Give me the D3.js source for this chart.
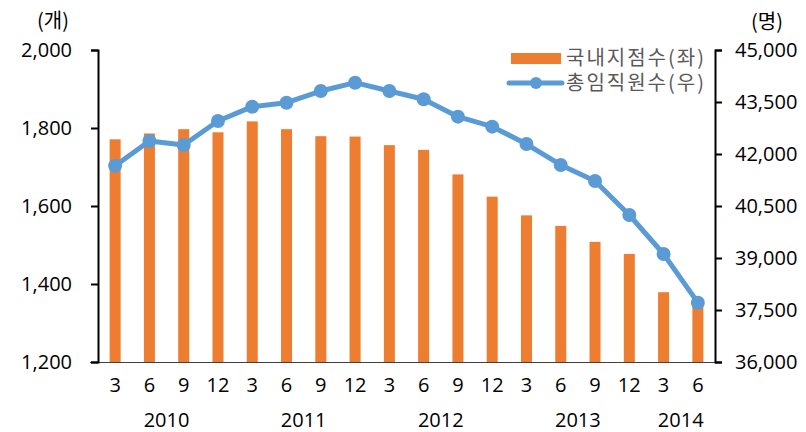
<!DOCTYPE html>
<html>
<head>
<meta charset="utf-8">
<script src="https://cdn.jsdelivr.net/npm/d3@7"></script>
<style>
  body { margin: 0; background: #fff; }
  svg text { font-family: "Open Sans", "Noto Sans CJK KR", sans-serif; }
  svg text.kr { font-family: "Noto Sans CJK KR", sans-serif; }
</style>
</head>
<body>
<svg id="chart"></svg>
<script>
const WIDTH = 806;
const HEIGHT = 432;

// data
const months = ["3", "6", "9", "12", "3", "6", "9", "12", "3", "6", "9", "12", "3", "6", "9", "12", "3", "6"];
const years = [
  { label: "2010", from: 0, to: 3 },
  { label: "2011", from: 4, to: 7 },
  { label: "2012", from: 8, to: 11 },
  { label: "2013", from: 12, to: 15 },
  { label: "2014", from: 16, to: 17 }
];
const branches = [1771, 1786, 1797, 1789, 1817, 1797, 1779, 1778, 1756, 1744, 1681, 1624, 1576, 1549, 1508, 1477, 1379, 1355];
const employees = [41663, 42375, 42260, 42952, 43365, 43480, 43817, 44057, 43817, 43578, 43077, 42789, 42288, 41683, 41221, 40240, 39116, 37711];
const leftTicks = [1200, 1400, 1600, 1800, 2000];
const rightTicks = [36000, 37500, 39000, 40500, 42000, 43500, 45000];
const seriesNames = ["국내지점수(좌)", "총임직원수(우)"];

const BAR_COLOR = "#ED7D31";
const LINE_COLOR = "#5B9BD5";
const FS = 20;

const plotLeft = 98, plotRight = 715, plotTop = 50, plotBottom = 362;

const svg = d3.select("#chart").attr("width", WIDTH).attr("height", HEIGHT);

const x = d3.scaleBand().domain(d3.range(months.length)).range([plotLeft, plotRight]);
const yL = d3.scaleLinear().domain([1200, 2000]).range([plotBottom, plotTop]);
const yR = d3.scaleLinear().domain([36000, 45000]).range([plotBottom, plotTop]);

// bars
svg.append("g")
  .selectAll("rect")
  .data(branches)
  .enter()
  .append("rect")
  .attr("x", (d, i) => x(i) + x.bandwidth() / 2 - 5.5)
  .attr("width", 11)
  .attr("y", d => yL(d))
  .attr("height", d => yL(1200) - yL(d))
  .attr("fill", BAR_COLOR);

// bottom axis line
svg.append("line")
  .attr("x1", plotLeft - 8).attr("x2", plotRight)
  .attr("y1", plotBottom + 0.5).attr("y2", plotBottom + 0.5)
  .attr("stroke", "#404040").attr("stroke-width", 1);

// left axis
const leftAxis = svg.append("g")
  .attr("transform", `translate(${plotLeft},0)`)
  .call(d3.axisLeft(yL).tickValues(leftTicks).tickFormat(d3.format(",")).tickSize(7).tickPadding(19));
leftAxis.select(".domain").attr("stroke", "#000").attr("stroke-width", 2);
leftAxis.selectAll(".tick line").attr("stroke", "#000").attr("stroke-width", 2);
leftAxis.selectAll("text").attr("font-size", FS).attr("fill", "#000")
  .style("font-family", "'Open Sans', sans-serif");

// right axis
const rightAxis = svg.append("g")
  .attr("transform", `translate(${plotRight},0)`)
  .call(d3.axisRight(yR).tickValues(rightTicks).tickFormat(d3.format(",")).tickSize(7).tickPadding(13));
rightAxis.select(".domain").attr("stroke", "#000").attr("stroke-width", 2);
rightAxis.selectAll(".tick line").attr("stroke", "#000").attr("stroke-width", 2);
rightAxis.selectAll("text").attr("font-size", FS).attr("fill", "#000")
  .style("font-family", "'Open Sans', sans-serif");

// x labels
svg.append("g")
  .selectAll("text")
  .data(months)
  .enter()
  .append("text")
  .attr("x", (d, i) => x(i) + x.bandwidth() / 2)
  .attr("y", 392)
  .attr("text-anchor", "middle")
  .attr("font-size", FS)
  .text(d => d);

svg.append("g")
  .selectAll("text")
  .data(years)
  .enter()
  .append("text")
  .attr("x", d => (x(d.from) + x(d.to) + x.bandwidth()) / 2)
  .attr("y", 427)
  .attr("text-anchor", "middle")
  .attr("font-size", FS)
  .text(d => d.label);

// line
const line = d3.line()
  .x((d, i) => x(i) + x.bandwidth() / 2)
  .y(d => yR(d));

svg.append("path")
  .datum(employees)
  .attr("d", line)
  .attr("fill", "none")
  .attr("stroke", LINE_COLOR)
  .attr("stroke-width", 5)
  .attr("stroke-linejoin", "round");

svg.append("g")
  .selectAll("circle")
  .data(employees)
  .enter()
  .append("circle")
  .attr("cx", (d, i) => x(i) + x.bandwidth() / 2)
  .attr("cy", d => yR(d))
  .attr("r", 7)
  .attr("fill", LINE_COLOR);

// unit labels
svg.append("text").attr("class", "kr").attr("x", 53).attr("y", 28).attr("text-anchor", "middle")
  .attr("font-size", FS).text("(개)");
svg.append("text").attr("class", "kr").attr("x", 767).attr("y", 29).attr("text-anchor", "middle")
  .attr("font-size", FS).text("(명)");

// legend
const legend = svg.append("g");
legend.append("rect")
  .attr("x", 511).attr("y", 53).attr("width", 50).attr("height", 11)
  .attr("fill", BAR_COLOR);
legend.append("line")
  .attr("x1", 509).attr("x2", 562).attr("y1", 83).attr("y2", 83)
  .attr("stroke", LINE_COLOR).attr("stroke-width", 5).attr("stroke-linecap", "round");
legend.append("circle").attr("cx", 536).attr("cy", 83).attr("r", 6).attr("fill", LINE_COLOR);
legend.selectAll("text.leg")
  .data(seriesNames)
  .enter()
  .append("text")
  .attr("class", "leg kr")
  .attr("x", 566)
  .attr("y", (d, i) => 65 + i * 25)
  .attr("font-size", FS)
  .attr("letter-spacing", 2)
  .attr("fill", "#595959")
  .text(d => d);
</script>
</body>
</html>
